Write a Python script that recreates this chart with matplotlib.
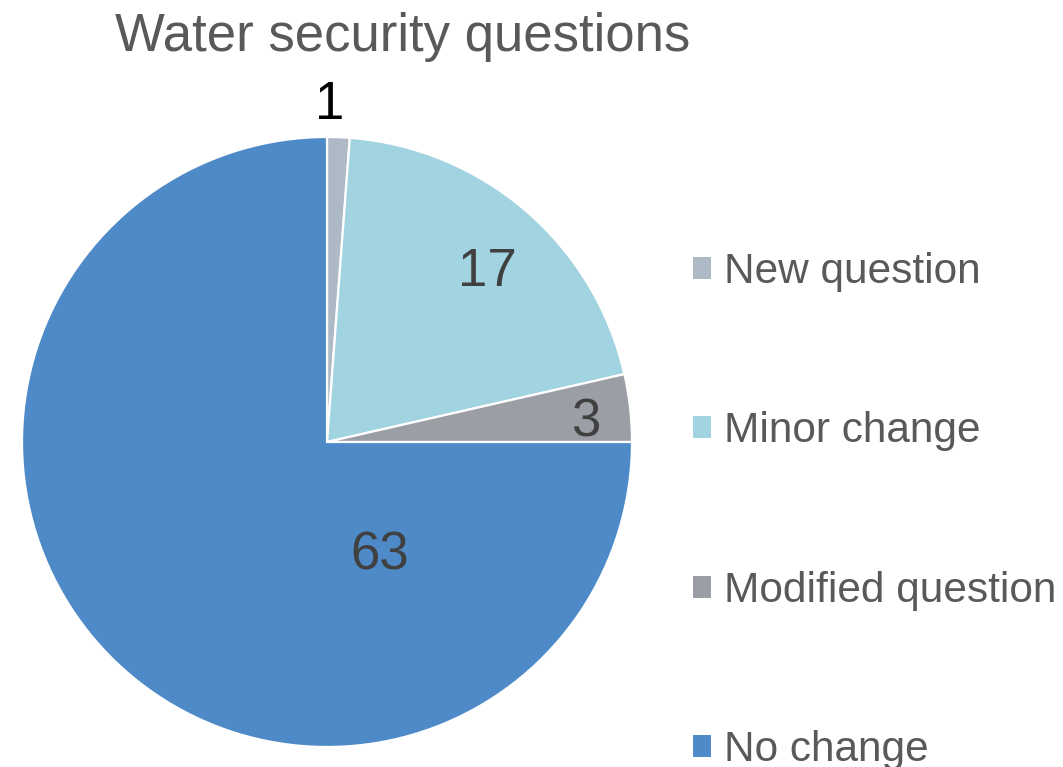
import numpy as np
import matplotlib.pyplot as plt
from matplotlib.patches import Patch

plt.rcParams["font.family"] = ["Liberation Sans", "DejaVu Sans"]

# 数据
categories = ["New question", "Minor change", "Modified question", "No change"]
counts = [1, 17, 3, 63]
colors = ["#adb9c4", "#a2d3e1", "#9b9ea4", "#4e8ac8"]

# 数值标签的位置（半径, 角度）和颜色
label_pos = [(1.105, 89.5), (0.765, 46.7), (0.85, 4.4), (0.41, -64.9)]
label_colors = ["#000000", "#404040", "#404040", "#404040"]

fig = plt.figure(figsize=(10.63, 7.67), dpi=100)
ax = fig.add_axes([22 / 1063, 20 / 767, 610 / 1063, 610 / 767])

wedges, _ = ax.pie(counts, colors=colors, startangle=90, counterclock=False,
                   radius=1, wedgeprops=dict(edgecolor="white", linewidth=1.6))
ax.set_xlim(-1, 1)
ax.set_ylim(-1, 1)
ax.set_aspect("auto")

for v, (r, a), c in zip(counts, label_pos, label_colors):
    t = np.deg2rad(a)
    ax.text(r * np.cos(t), r * np.sin(t), str(v), ha="center", va="center",
            fontsize=38, color=c, clip_on=False)

fig.text(403 / 1063, 1 - 37 / 767, "Water security questions", ha="center",
         va="center", fontsize=38, color="#595959")

handles = [Patch(facecolor=c, edgecolor="none") for c in colors]
leg = fig.legend(handles, categories, loc="center left",
                 bbox_to_anchor=(655 / 1063, 1 - 511 / 767), frameon=False,
                 fontsize=30.5, handlelength=0.42, handleheight=0.42,
                 handletextpad=0.3, labelspacing=2.82, labelcolor="#595959")

fig.savefig("out.png", dpi=100)
